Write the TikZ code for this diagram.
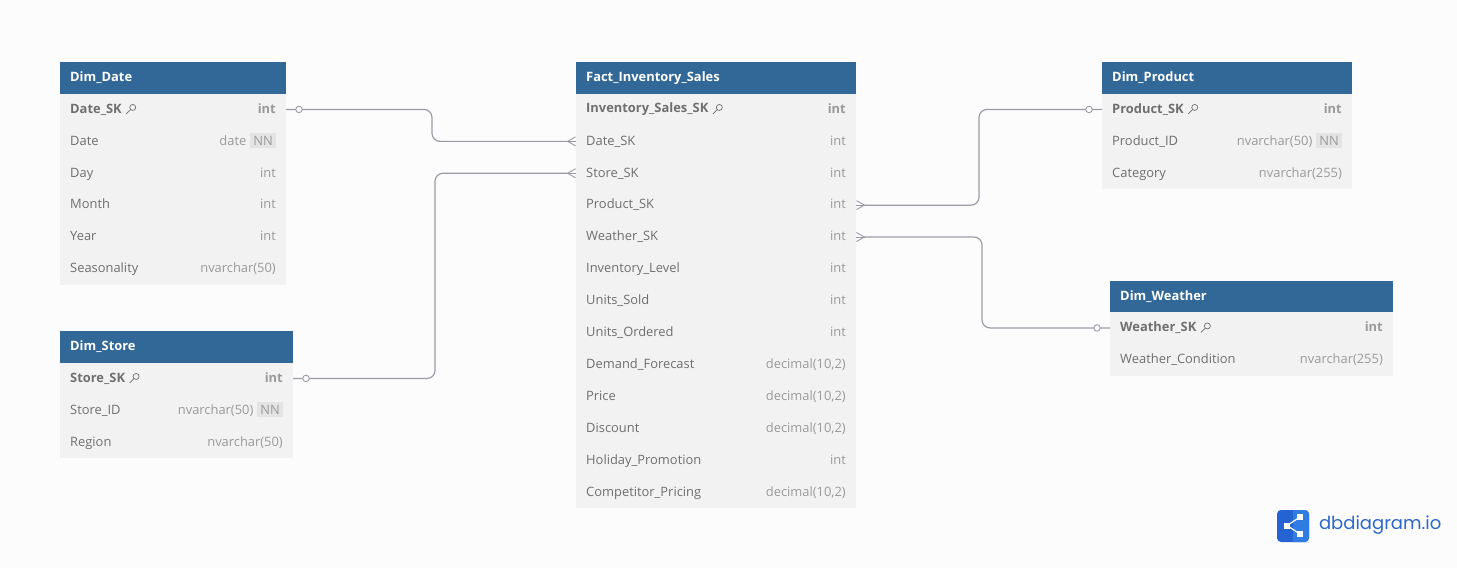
\documentclass[tikz,border=0pt]{standalone}
\usepackage{fontspec}
\setmainfont{Open Sans}
\newfontfamily\logofont{Poppins}
\usepackage{xcolor}
\usetikzlibrary{positioning,arrows.meta}
\definecolor{pagebg}{HTML}{FCFCFC}
\definecolor{headblue}{HTML}{316897}
\definecolor{rowgray}{HTML}{F2F2F2}
\definecolor{namegray}{HTML}{6F6F6F}
\definecolor{typegray}{HTML}{9A9A9A}
\definecolor{linegray}{HTML}{9C9CA6}
\definecolor{nngray}{HTML}{E4E4E4}
\definecolor{logodark}{HTML}{2463D1}
\definecolor{logolight}{HTML}{2F7CE3}
\definecolor{logotext}{HTML}{2C69C9}
\setlength{\fboxsep}{3pt}
\newcommand{\nn}{\hspace{4pt}\colorbox{nngray}{NN}}

\begin{document}
\begin{tikzpicture}[
    x=1pt, y=-1pt,
    every node/.style={font=\fontsize{12.9}{15}\selectfont, outer sep=0pt},
    tablehead/.style={rectangle, fill=headblue, text=white, anchor=north west, font=\fontsize{12.9}{15}\selectfont\bfseries,
        inner xsep=10.2pt, inner ysep=0pt, minimum height=31.5pt, text height=10pt, text depth=2.5pt, text width=#1pt-20.4pt},
    rowbox/.style={rectangle, fill=rowgray, text=namegray, inner xsep=10.2pt, inner ysep=0pt, minimum height=31.9pt,
        text height=10pt, text depth=2.5pt, text width=#1pt-20.4pt},
    pkname/.style={anchor=west, xshift=10.2pt, inner sep=0pt, text=namegray, font=\fontsize{12.9}{15}\selectfont\bfseries},
    relline/.style={draw=linegray, line width=1.2pt, rounded corners=8pt},
    zeromark/.style={circle, draw=linegray, fill=pagebg, line width=.9pt, inner sep=0pt, minimum size=6.5pt},
    keyicon/.pic={
        \draw[namegray, line width=.7pt] (2,-2) circle (3pt);
        \draw[namegray, line width=.7pt] (0,0) -- (-4.5,4.5);
    }
]
\useasboundingbox (0,0) rectangle (1457,568);
\fill[pagebg] (0,0) rectangle (1457,568);

% Dim_Date
\node[tablehead=226] (Dim_Date) at (60,62) {Dim\_Date};
\node[rowbox=226] (Date_SK) [below=0pt of Dim_Date] {\hfill\textcolor{typegray}{\bfseries int}};
\node[pkname] (Date_SK_name) at (Date_SK.west) {Date\_SK};
\node[rowbox=226] (Date_Date) [below=0pt of Date_SK] {Date\hfill\textcolor{typegray}{date\nn}};
\node[rowbox=226] (Date_Day) [below=0pt of Date_Date] {Day\hfill\textcolor{typegray}{int}};
\node[rowbox=226] (Date_Month) [below=0pt of Date_Day] {Month\hfill\textcolor{typegray}{int}};
\node[rowbox=226] (Date_Year) [below=0pt of Date_Month] {Year\hfill\textcolor{typegray}{int}};
\node[rowbox=226] (Date_Season) [below=0pt of Date_Year] {Seasonality\hfill\textcolor{typegray}{nvarchar(50)}};
\pic at ([xshift=9pt]Date_SK_name.east) {keyicon};

% Dim_Store
\node[tablehead=233] (Dim_Store) at (60,331) {Dim\_Store};
\node[rowbox=233] (Store_SK) [below=0pt of Dim_Store] {\hfill\textcolor{typegray}{\bfseries int}};
\node[pkname] (Store_SK_name) at (Store_SK.west) {Store\_SK};
\node[rowbox=233] (Store_ID) [below=0pt of Store_SK] {Store\_ID\hfill\textcolor{typegray}{nvarchar(50)\nn}};
\node[rowbox=233] (Store_Region) [below=0pt of Store_ID] {Region\hfill\textcolor{typegray}{nvarchar(50)}};
\pic at ([xshift=9pt]Store_SK_name.east) {keyicon};

% Fact_Inventory_Sales
\node[tablehead=280] (Fact_Sales) at (576,62) {Fact\_Inventory\_Sales};
\node[rowbox=280] (Inventory_Sales_SK) [below=0pt of Fact_Sales] {\hfill\textcolor{typegray}{\bfseries int}};
\node[pkname] (Inventory_Sales_SK_name) at (Inventory_Sales_SK.west) {Inventory\_Sales\_SK};
\node[rowbox=280] (F_Date_SK) [below=0pt of Inventory_Sales_SK] {Date\_SK\hfill\textcolor{typegray}{int}};
\node[rowbox=280] (F_Store_SK) [below=0pt of F_Date_SK] {Store\_SK\hfill\textcolor{typegray}{int}};
\node[rowbox=280] (F_Product_SK) [below=0pt of F_Store_SK] {Product\_SK\hfill\textcolor{typegray}{int}};
\node[rowbox=280] (F_Weather_SK) [below=0pt of F_Product_SK] {Weather\_SK\hfill\textcolor{typegray}{int}};
\node[rowbox=280] (F_Level) [below=0pt of F_Weather_SK] {Inventory\_Level\hfill\textcolor{typegray}{int}};
\node[rowbox=280] (F_Sold) [below=0pt of F_Level] {Units\_Sold\hfill\textcolor{typegray}{int}};
\node[rowbox=280] (F_Ordered) [below=0pt of F_Sold] {Units\_Ordered\hfill\textcolor{typegray}{int}};
\node[rowbox=280] (F_Forecast) [below=0pt of F_Ordered] {Demand\_Forecast\hfill\textcolor{typegray}{decimal(10,2)}};
\node[rowbox=280] (F_Price) [below=0pt of F_Forecast] {Price\hfill\textcolor{typegray}{decimal(10,2)}};
\node[rowbox=280] (F_Discount) [below=0pt of F_Price] {Discount\hfill\textcolor{typegray}{decimal(10,2)}};
\node[rowbox=280] (F_Holiday) [below=0pt of F_Discount] {Holiday\_Promotion\hfill\textcolor{typegray}{int}};
\node[rowbox=280] (F_Competitor) [below=0pt of F_Holiday] {Competitor\_Pricing\hfill\textcolor{typegray}{decimal(10,2)}};
\pic at ([xshift=9pt]Inventory_Sales_SK_name.east) {keyicon};

% Dim_Product
\node[tablehead=250] (Dim_Product) at (1102,62) {Dim\_Product};
\node[rowbox=250] (Product_SK) [below=0pt of Dim_Product] {\hfill\textcolor{typegray}{\bfseries int}};
\node[pkname] (Product_SK_name) at (Product_SK.west) {Product\_SK};
\node[rowbox=250] (Product_ID) [below=0pt of Product_SK] {Product\_ID\hfill\textcolor{typegray}{nvarchar(50)\nn}};
\node[rowbox=250] (Product_Category) [below=0pt of Product_ID] {Category\hfill\textcolor{typegray}{nvarchar(255)}};
\pic at ([xshift=9pt]Product_SK_name.east) {keyicon};

% Dim_Weather
\node[tablehead=283] (Dim_Weather) at (1110,280.5) {Dim\_Weather};
\node[rowbox=283] (Weather_SK) [below=0pt of Dim_Weather] {\hfill\textcolor{typegray}{\bfseries int}};
\node[pkname] (Weather_SK_name) at (Weather_SK.west) {Weather\_SK};
\node[rowbox=283] (Weather_Cond) [below=0pt of Weather_SK] {Weather\_Condition\hfill\textcolor{typegray}{nvarchar(255)}};
\pic at ([xshift=9pt]Weather_SK_name.east) {keyicon};

% relations
\draw[relline, -{Straight Barb[reversed, length=8pt, width=9pt, line width=.9pt]}] (Date_SK.east) -- node[zeromark, at start, xshift=13pt] (Date_mark) {} ++(146,0) |- (F_Date_SK.west);
\draw[relline, -{Straight Barb[reversed, length=8pt, width=9pt, line width=.9pt]}] (Store_SK.east) -- node[zeromark, at start, xshift=13pt] (Store_mark) {} ++(142,0) |- (F_Store_SK.west);
\draw[relline, -{Straight Barb[reversed, length=8pt, width=9pt, line width=.9pt]}] (Product_SK.west) -- node[zeromark, at start, xshift=-13pt] (Product_mark) {} ++(-123,0) |- (F_Product_SK.east);
\draw[relline, -{Straight Barb[reversed, length=8pt, width=9pt, line width=.9pt]}] (Weather_SK.west) -- node[zeromark, at start, xshift=-13pt] (Weather_mark) {} ++(-128,0) |- (F_Weather_SK.east);
\draw[linegray, line width=.9pt] (F_Date_SK.west) -- ++(-9,0);
\draw[linegray, line width=.9pt] (F_Store_SK.west) -- ++(-9,0);
\draw[linegray, line width=.9pt] (F_Product_SK.east) -- ++(9,0);
\draw[linegray, line width=.9pt] (F_Weather_SK.east) -- ++(9,0);

% logo
\fill[logodark, rounded corners=4pt] (1277,510) rectangle (1309,542);
\fill[logolight, rounded corners=4pt] (1293,510) [sharp corners] -- (1305,510) [rounded corners=4pt] -- (1309,510) -- (1309,542) -- (1305,542) [sharp corners] -- (1293,542) -- cycle;
\draw[white, line width=1.2pt] (1300,517) -- (1287,525.5) -- (1300,534);
\fill[white] (1284,522.5) rectangle (1290,528.5);
\fill[white] (1297,514) rectangle (1303,520);
\fill[white] (1297,531) rectangle (1303,537);
\node[inner sep=0pt, anchor=west, text=logotext, font=\logofont\fontsize{18}{22}\selectfont] (Logo_text) at (1319,525.5) {dbdiagram.io};
\end{tikzpicture}
\end{document}
